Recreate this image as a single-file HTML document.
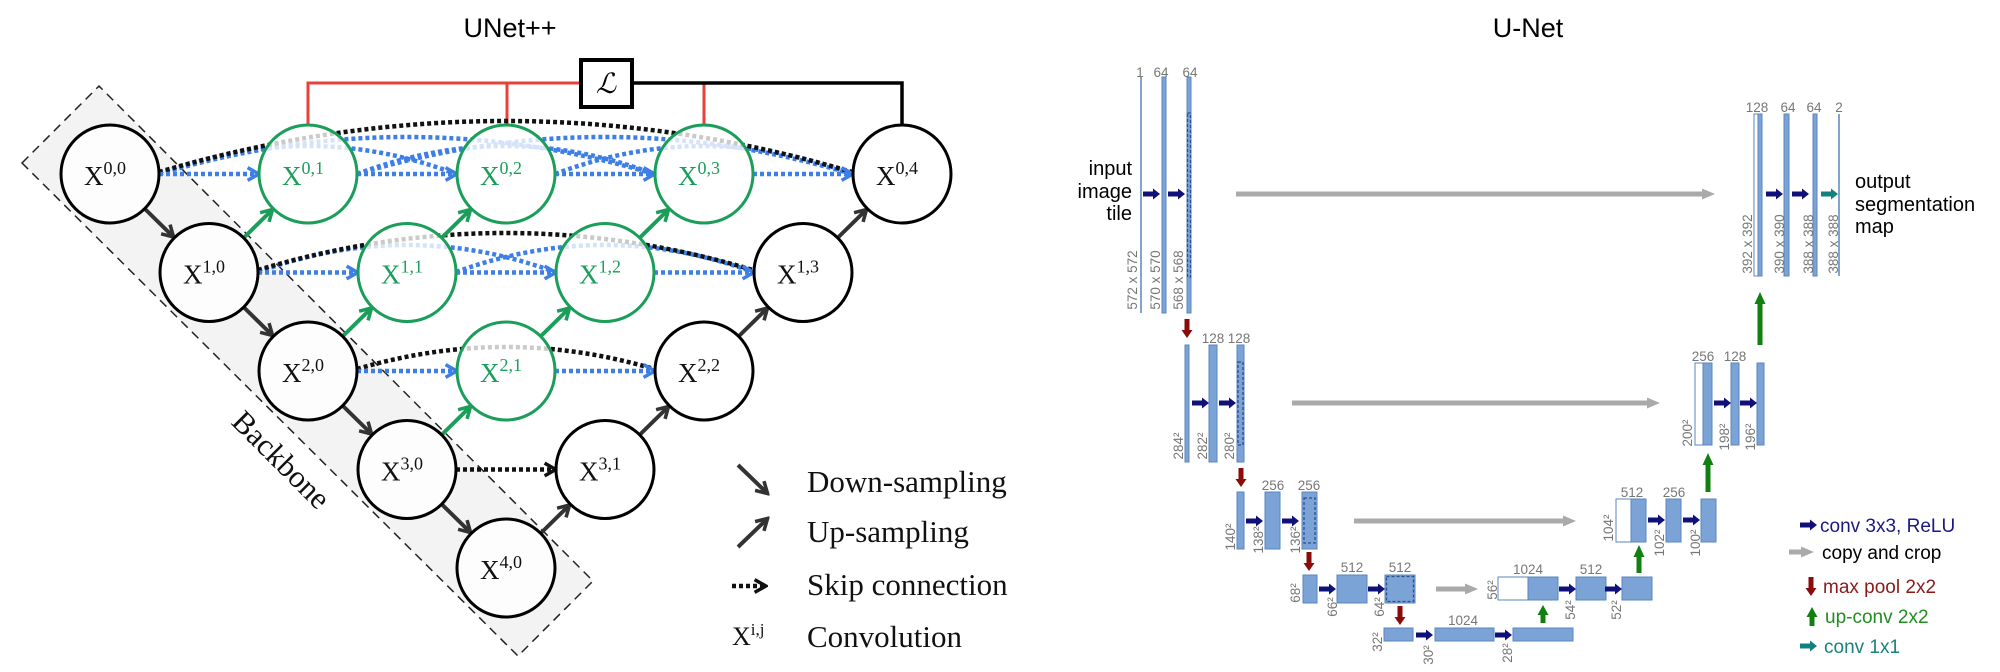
<!DOCTYPE html>
<html><head><meta charset="utf-8"><style>html,body{margin:0;padding:0;background:#fff;}svg{display:block;}
.s{font-family:"Liberation Serif",serif;}
.g{font-family:"Liberation Sans",sans-serif;font-size:13.5px;fill:#777;text-anchor:middle;}
</style></head><body>
<svg width="2000" height="672" viewBox="0 0 2000 672" xmlns="http://www.w3.org/2000/svg">
<defs>
<marker id="mk" markerUnits="userSpaceOnUse" markerWidth="16" markerHeight="16" viewBox="0 0 10 10" refX="8" refY="5" orient="auto"><path d="M1.5,1 L8.5,5 L1.5,9" fill="none" stroke="#333" stroke-width="2.2"/></marker>
<marker id="mg" markerUnits="userSpaceOnUse" markerWidth="16" markerHeight="16" viewBox="0 0 10 10" refX="8" refY="5" orient="auto"><path d="M1.5,1 L8.5,5 L1.5,9" fill="none" stroke="#1a9e5a" stroke-width="2.2"/></marker>
<marker id="mb" markerUnits="userSpaceOnUse" markerWidth="16" markerHeight="16" viewBox="0 0 10 10" refX="8" refY="5" orient="auto"><path d="M1.5,1 L8.5,5 L1.5,9" fill="none" stroke="#3d7fe6" stroke-width="2.2"/></marker>
<marker id="mk2" markerUnits="userSpaceOnUse" markerWidth="16" markerHeight="16" viewBox="0 0 10 10" refX="8" refY="5" orient="auto"><path d="M1.5,1 L8.5,5 L1.5,9" fill="none" stroke="#111" stroke-width="2.2"/></marker>
<path id="na" d="M-17,-2.5 H-7 V-5.5 L0,0 L-7,5.5 V2.5 H-17 Z"/>
<path id="rd" d="M-2.5,-19 H2.5 V-8 H5.5 L0,0 L-5.5,-8 H-2.5 Z"/>
</defs>

<!-- ================= UNet++ ================= -->
<text x="510" y="37" font-family="Liberation Sans, sans-serif" font-size="27" text-anchor="middle" fill="#000">UNet++</text>

<polygon points="22,163 99,86 593,581 518,656" fill="#f3f3f3" stroke="#222" stroke-width="1.5" stroke-dasharray="9 6"/>
<text class="s" transform="translate(281,460) rotate(45)" font-size="31" text-anchor="middle" dy="10" fill="#111">Backbone</text>

<!-- loss -->
<path d="M308,125 V83 H581 M507,83 V125 M704,83 V125" fill="none" stroke="#e8413a" stroke-width="3"/>
<path d="M632,83 H902 V125" fill="none" stroke="#000" stroke-width="3.5"/>
<rect x="581" y="60" width="51" height="47" fill="#fff" stroke="#000" stroke-width="4"/>
<text x="606" y="93" class="s" font-size="28" font-style="italic" text-anchor="middle">ℒ</text>

<!-- skip arcs -->
<g fill="none" stroke="#3d7fe6" stroke-width="4.5" stroke-dasharray="4 3">
<path d="M159,174 Q308,118 456,174"/>
<path d="M357,174 Q506,118 654,174"/>
<path d="M555,174 Q704,118 852,174"/>
<path d="M159,174 Q407,100 654,174"/>
<path d="M357,174 Q605,100 852,174"/>
<path d="M258,272 Q407,218 555,272"/>
<path d="M456,272 Q605,218 753,272"/>
</g>
<g fill="none" stroke="#111" stroke-width="4.5" stroke-dasharray="4 3">
<path d="M159,172 Q506,70 852,172"/>
<path d="M258,270 Q505,196 753,270"/>
<path d="M357,369 Q506,325 654,369"/>
</g>
<g fill="none" stroke="#3d7fe6" stroke-width="4.5" stroke-dasharray="4 3" marker-end="url(#mb)">
<path d="M159,174 H258"/><path d="M357,174 H456"/><path d="M555,174 H654"/><path d="M753,174 H852"/>
<path d="M258,272.5 H357"/><path d="M456,272.5 H555"/><path d="M654,272.5 H753"/>
<path d="M357,371 H456"/><path d="M555,371 H654"/>
</g>
<path d="M456,469.5 H555" fill="none" stroke="#111" stroke-width="4.5" stroke-dasharray="4 3" marker-end="url(#mk2)"/>

<!-- down / up arrows -->
<g stroke="#333" stroke-width="4" fill="none" marker-end="url(#mk)">
<path d="M145,209 L173,236.5"/><path d="M244,307.5 L272,335"/><path d="M343,406 L371,433.5"/><path d="M442,504.5 L470,532"/>
<path d="M541,533 L569,505.5"/><path d="M640,434.5 L668,407"/><path d="M739,336 L767,308.5"/><path d="M838,237.5 L866,210"/>
</g>
<g stroke="#1a9e5a" stroke-width="4" fill="none" marker-end="url(#mg)">
<path d="M244,237.5 L272,210"/><path d="M343,336 L371,308.5"/><path d="M442,237.5 L470,210"/>
<path d="M442,434.5 L470,407"/><path d="M541,336 L569,308.5"/><path d="M640,237.5 L668,210"/>
</g>

<!-- nodes -->
<g stroke-width="3" fill="#fff" fill-opacity="0.78">
<circle cx="110" cy="174" r="49" stroke="#000"/>
<circle cx="308" cy="174" r="49" stroke="#1a9e5a"/>
<circle cx="506" cy="174" r="49" stroke="#1a9e5a"/>
<circle cx="704" cy="174" r="49" stroke="#1a9e5a"/>
<circle cx="902" cy="174" r="49" stroke="#000"/>
<circle cx="209" cy="272.5" r="49" stroke="#000"/>
<circle cx="407" cy="272.5" r="49" stroke="#1a9e5a"/>
<circle cx="605" cy="272.5" r="49" stroke="#1a9e5a"/>
<circle cx="803" cy="272.5" r="49" stroke="#000"/>
<circle cx="308" cy="371" r="49" stroke="#000"/>
<circle cx="506" cy="371" r="49" stroke="#1a9e5a"/>
<circle cx="704" cy="371" r="49" stroke="#000"/>
<circle cx="407" cy="469.5" r="49" stroke="#000"/>
<circle cx="605" cy="469.5" r="49" stroke="#000"/>
<circle cx="506" cy="568" r="49" stroke="#000"/>
</g>
<g class="s" font-size="27" text-anchor="middle">
<text x="105" y="185" fill="#111">X<tspan font-size="18" dy="-11">0,0</tspan></text>
<text x="303" y="185" fill="#1a9e5a">X<tspan font-size="18" dy="-11">0,1</tspan></text>
<text x="501" y="185" fill="#1a9e5a">X<tspan font-size="18" dy="-11">0,2</tspan></text>
<text x="699" y="185" fill="#1a9e5a">X<tspan font-size="18" dy="-11">0,3</tspan></text>
<text x="897" y="185" fill="#111">X<tspan font-size="18" dy="-11">0,4</tspan></text>
<text x="204" y="283.5" fill="#111">X<tspan font-size="18" dy="-11">1,0</tspan></text>
<text x="402" y="283.5" fill="#1a9e5a">X<tspan font-size="18" dy="-11">1,1</tspan></text>
<text x="600" y="283.5" fill="#1a9e5a">X<tspan font-size="18" dy="-11">1,2</tspan></text>
<text x="798" y="283.5" fill="#111">X<tspan font-size="18" dy="-11">1,3</tspan></text>
<text x="303" y="382" fill="#111">X<tspan font-size="18" dy="-11">2,0</tspan></text>
<text x="501" y="382" fill="#1a9e5a">X<tspan font-size="18" dy="-11">2,1</tspan></text>
<text x="699" y="382" fill="#111">X<tspan font-size="18" dy="-11">2,2</tspan></text>
<text x="402" y="480.5" fill="#111">X<tspan font-size="18" dy="-11">3,0</tspan></text>
<text x="600" y="480.5" fill="#111">X<tspan font-size="18" dy="-11">3,1</tspan></text>
<text x="501" y="579" fill="#111">X<tspan font-size="18" dy="-11">4,0</tspan></text>
</g>

<!-- left legend -->
<path d="M738,465 L767,493" stroke="#333" stroke-width="4" fill="none" marker-end="url(#mk)"/>
<path d="M738,547 L767,519" stroke="#333" stroke-width="4" fill="none" marker-end="url(#mk)"/>
<path d="M732,586 H765" stroke="#111" stroke-width="4.5" stroke-dasharray="4 3" fill="none" marker-end="url(#mk2)"/>
<text x="732" y="645" class="s" font-size="26" fill="#111">X<tspan font-size="17" dy="-10">i,j</tspan></text>
<g class="s" font-size="31" fill="#111">
<text x="807" y="492">Down-sampling</text>
<text x="807" y="542">Up-sampling</text>
<text x="807" y="595">Skip connection</text>
<text x="807" y="647">Convolution</text>
</g>

<!-- ================= U-Net ================= -->
<text x="1528" y="37" font-family="Liberation Sans, sans-serif" font-size="27" text-anchor="middle" fill="#000">U-Net</text>

<!-- copy and crop -->
<g fill="#aaa">
<path d="M1236,191.5 H1702 V188.5 L1715,194 L1702,199.5 V196.5 H1236Z"/>
<path d="M1292,400.5 H1647 V397.5 L1660,403 L1647,408.5 V405.5 H1292Z"/>
<path d="M1354,518.5 H1563 V515.5 L1576,521 L1563,526.5 V523.5 H1354Z"/>
<path d="M1436,586.5 H1465 V583.5 L1478,589 L1465,594.5 V591.5 H1436Z"/>
<path d="M1789,549.5 H1801 V546.5 L1814,552 L1801,557.5 V554.5 H1789Z"/>
</g>

<!-- bars -->
<g stroke="#5a86bf" stroke-width="1">
<line x1="1141" y1="77" x2="1141" y2="313" stroke-width="1.5"/>
<rect x="1162" y="77" width="4" height="236" fill="#7ba3d5"/>
<rect x="1187" y="77" width="4" height="236" fill="#7ba3d5"/>
<rect x="1754" y="114" width="4" height="162" fill="#fff"/>
<rect x="1758" y="114" width="4" height="162" fill="#7ba3d5"/>
<rect x="1784" y="114" width="5" height="162" fill="#7ba3d5"/>
<rect x="1813" y="114" width="4" height="162" fill="#7ba3d5"/>
<line x1="1839" y1="114" x2="1839" y2="276" stroke-width="1.5"/>
<rect x="1185" y="345" width="4" height="117" fill="#7ba3d5"/>
<rect x="1209" y="345" width="8" height="117" fill="#7ba3d5"/>
<rect x="1237" y="345" width="7" height="117" fill="#7ba3d5"/>
<rect x="1695" y="363" width="8" height="82" fill="#fff"/>
<rect x="1703" y="363" width="9" height="82" fill="#7ba3d5"/>
<rect x="1731" y="363" width="8" height="82" fill="#7ba3d5"/>
<rect x="1757" y="363" width="7" height="82" fill="#7ba3d5"/>
<rect x="1237" y="492" width="7" height="57" fill="#7ba3d5"/>
<rect x="1265" y="492" width="15" height="57" fill="#7ba3d5"/>
<rect x="1302" y="492" width="15" height="57" fill="#7ba3d5"/>
<rect x="1616" y="499" width="15" height="43" fill="#fff"/>
<rect x="1631" y="499" width="15" height="43" fill="#7ba3d5"/>
<rect x="1666" y="499" width="15" height="43" fill="#7ba3d5"/>
<rect x="1701" y="499" width="15" height="43" fill="#7ba3d5"/>
<rect x="1303" y="575" width="14" height="28" fill="#7ba3d5"/>
<rect x="1337" y="575" width="30" height="28" fill="#7ba3d5"/>
<rect x="1385" y="575" width="30" height="28" fill="#7ba3d5"/>
<rect x="1498" y="577" width="30" height="23" fill="#fff"/>
<rect x="1528" y="577" width="30" height="23" fill="#7ba3d5"/>
<rect x="1576" y="577" width="30" height="23" fill="#7ba3d5"/>
<rect x="1622" y="577" width="30" height="23" fill="#7ba3d5"/>
<rect x="1384" y="628" width="29" height="13" fill="#7ba3d5"/>
<rect x="1435" y="628" width="59" height="13" fill="#7ba3d5"/>
<rect x="1513" y="628" width="60" height="13" fill="#7ba3d5"/>
</g>
<g fill="none" stroke="#2d4f8f" stroke-width="1.3" stroke-dasharray="3 2">
<rect x="1187.5" y="113" width="3" height="164"/>
<rect x="1238" y="362" width="5" height="83"/>
<rect x="1304" y="498" width="11" height="45"/>
<rect x="1386.5" y="576.5" width="27" height="25"/>
</g>

<!-- conv arrows -->
<g fill="#10107a">
<use href="#na" x="1160" y="194"/><use href="#na" x="1185" y="194"/><use href="#na" x="1783" y="194"/><use href="#na" x="1809" y="194"/>
<use href="#na" x="1209" y="403"/><use href="#na" x="1236" y="403"/><use href="#na" x="1731" y="403"/><use href="#na" x="1757" y="403"/>
<use href="#na" x="1263" y="521"/><use href="#na" x="1299" y="521"/><use href="#na" x="1665" y="520"/><use href="#na" x="1700" y="520"/>
<use href="#na" x="1336" y="589"/><use href="#na" x="1385" y="589"/><use href="#na" x="1576" y="589"/><use href="#na" x="1622" y="589"/>
<use href="#na" x="1433" y="635"/><use href="#na" x="1512" y="635"/>
<use href="#na" x="1817" y="525"/>
</g>
<g fill="#138080"><use href="#na" x="1838" y="194"/><use href="#na" x="1817" y="646"/></g>
<g fill="#8b0a0a">
<use href="#rd" x="1187" y="338"/><use href="#rd" x="1241" y="487"/><use href="#rd" x="1309" y="571"/><use href="#rd" x="1400" y="625"/><use href="#rd" x="1811" y="596"/>
</g>
<g fill="#118011">
<path d="M1757.5,345 V304 H1754.5 L1760,292 L1765.5,304 H1762.5 V345Z"/>
<path d="M1705.5,492 V465 H1702.5 L1708,453 L1713.5,465 H1710.5 V492Z"/>
<path d="M1636.5,573 V557 H1633.5 L1639,545 L1644.5,557 H1641.5 V573Z"/>
<path d="M1540.5,623 V615 H1537.5 L1543,605 L1548.5,615 H1545.5 V623Z"/>
<path d="M1809.5,626 V617 H1806.5 L1812,607 L1817.5,617 H1814.5 V626Z"/>
</g>

<!-- channel labels -->
<g class="g">
<text x="1140" y="77">1</text><text x="1161" y="77">64</text><text x="1190" y="77">64</text>
<text x="1757" y="112">128</text><text x="1788" y="112">64</text><text x="1814" y="112">64</text><text x="1839" y="112">2</text>
<text x="1213" y="343">128</text><text x="1239" y="343">128</text>
<text x="1703" y="361">256</text><text x="1735" y="361">128</text>
<text x="1273" y="490">256</text><text x="1309" y="490">256</text>
<text x="1632" y="497">512</text><text x="1674" y="497">256</text>
<text x="1352" y="572">512</text><text x="1400" y="572">512</text>
<text x="1528" y="574">1024</text><text x="1591" y="574">512</text>
<text x="1463" y="625">1024</text>
</g>
<!-- size labels rotated -->
<g class="g">
<text transform="translate(1132,280) rotate(-90)" dy="5">572 x 572</text>
<text transform="translate(1155,280) rotate(-90)" dy="5">570 x 570</text>
<text transform="translate(1178,280) rotate(-90)" dy="5">568 x 568</text>
<text transform="translate(1747,244) rotate(-90)" dy="5">392 x 392</text>
<text transform="translate(1779,244) rotate(-90)" dy="5">390 x 390</text>
<text transform="translate(1808,244) rotate(-90)" dy="5">388 x 388</text>
<text transform="translate(1833,244) rotate(-90)" dy="5">388 x 388</text>
<text transform="translate(1178,446) rotate(-90)" dy="5">284²</text>
<text transform="translate(1202,446) rotate(-90)" dy="5">282²</text>
<text transform="translate(1229,446) rotate(-90)" dy="5">280²</text>
<text transform="translate(1687,433) rotate(-90)" dy="5">200²</text>
<text transform="translate(1724,437) rotate(-90)" dy="5">198²</text>
<text transform="translate(1750,437) rotate(-90)" dy="5">196²</text>
<text transform="translate(1230,537) rotate(-90)" dy="5">140²</text>
<text transform="translate(1258,540) rotate(-90)" dy="5">138²</text>
<text transform="translate(1295,540) rotate(-90)" dy="5">136²</text>
<text transform="translate(1608,528) rotate(-90)" dy="5">104²</text>
<text transform="translate(1659,543) rotate(-90)" dy="5">102²</text>
<text transform="translate(1695,543) rotate(-90)" dy="5">100²</text>
<text transform="translate(1295,593) rotate(-90)" dy="5">68²</text>
<text transform="translate(1332,607) rotate(-90)" dy="5">66²</text>
<text transform="translate(1379,607) rotate(-90)" dy="5">64²</text>
<text transform="translate(1492,590) rotate(-90)" dy="5">56²</text>
<text transform="translate(1570,610) rotate(-90)" dy="5">54²</text>
<text transform="translate(1616,610) rotate(-90)" dy="5">52²</text>
<text transform="translate(1377,642) rotate(-90)" dy="5">32²</text>
<text transform="translate(1428,655) rotate(-90)" dy="5">30²</text>
<text transform="translate(1507,653) rotate(-90)" dy="5">28²</text>
</g>

<g font-family="Liberation Sans, sans-serif" font-size="20" fill="#000">
<text x="1132" y="175" text-anchor="end">input</text>
<text x="1132" y="198" text-anchor="end">image</text>
<text x="1132" y="220" text-anchor="end">tile</text>
<text x="1855" y="188">output</text>
<text x="1855" y="211">segmentation</text>
<text x="1855" y="233">map</text>
</g>
<g font-family="Liberation Sans, sans-serif" font-size="19">
<text x="1820" y="532" fill="#1a1a80">conv 3x3, ReLU</text>
<text x="1822" y="559" fill="#000">copy and crop</text>
<text x="1823" y="593" fill="#8b1a1a">max pool 2x2</text>
<text x="1825" y="623" fill="#228b22">up-conv 2x2</text>
<text x="1824" y="653" fill="#1a8080">conv 1x1</text>
</g>
</svg>
</body></html>
